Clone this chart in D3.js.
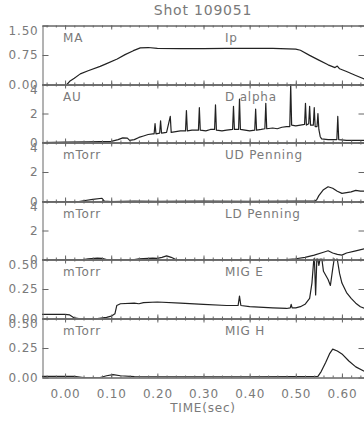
<!DOCTYPE html>
<html>
<head>
<meta charset="utf-8">
<script src="https://cdn.jsdelivr.net/npm/d3@7"></script>
<style>
  body { margin: 0; background: #fff; }
  text { font-family: "DejaVu Sans", sans-serif; fill: #7a7a7a; letter-spacing: 0.8px; }
</style>
</head>
<body>
<div class="canvas"></div>
<script>
// signals, [time (s), value]
const ip = [
  [0.004, 0], [0.01, 0.08], [0.02, 0.16], [0.033, 0.27], [0.05, 0.35], [0.076, 0.46],
  [0.09, 0.53], [0.113, 0.65], [0.13, 0.76], [0.148, 0.86], [0.163, 0.93], [0.18, 0.94],
  [0.20, 0.92], [0.25, 0.91], [0.30, 0.91], [0.35, 0.92], [0.40, 0.92], [0.45, 0.92],
  [0.50, 0.90], [0.51, 0.87], [0.53, 0.74], [0.55, 0.62], [0.57, 0.50], [0.585, 0.43],
  [0.59, 0.47], [0.595, 0.40], [0.61, 0.33], [0.63, 0.23], [0.65, 0.13]
];
const dAlpha = [
  [-0.05, 0], [0.00, 0.02], [0.05, 0.04], [0.10, 0.08], [0.115, 0.2], [0.125, 0.32], [0.135, 0.3],
  [0.14, 0.15], [0.15, 0.2], [0.16, 0.35], [0.17, 0.45], [0.18, 0.55], [0.19, 0.6],
  [0.193, 0.6], [0.195, 1.3], [0.197, 0.6], [0.205, 0.65], [0.207, 1.5], [0.209, 0.65],
  [0.22, 0.7], [0.228, 1.8], [0.23, 0.7], [0.24, 0.75], [0.25, 0.8], [0.261, 0.8], [0.263, 2.2],
  [0.265, 0.8], [0.275, 0.85], [0.289, 0.85], [0.291, 2.4], [0.293, 0.85], [0.305, 0.8],
  [0.315, 0.9], [0.324, 0.9], [0.326, 2.6], [0.328, 0.85], [0.34, 0.8], [0.35, 0.85],
  [0.363, 0.9], [0.365, 2.5], [0.367, 0.9], [0.376, 0.9], [0.378, 3.0], [0.38, 0.9],
  [0.39, 0.85], [0.40, 0.8], [0.411, 0.85], [0.413, 2.3], [0.415, 0.85], [0.425, 0.9],
  [0.433, 0.95], [0.435, 2.7], [0.437, 0.95], [0.45, 1.0], [0.46, 0.95], [0.47, 1.05],
  [0.48, 1.1], [0.487, 1.1], [0.489, 4.0], [0.491, 1.2], [0.50, 1.15], [0.51, 1.2],
  [0.519, 1.25], [0.521, 2.7], [0.523, 1.2], [0.528, 1.3], [0.530, 2.5], [0.532, 1.2],
  [0.538, 1.2], [0.54, 2.4], [0.542, 1.1], [0.546, 1.1], [0.548, 2.0], [0.55, 0.9],
  [0.553, 0.4], [0.556, 0.25], [0.57, 0.2], [0.589, 0.2], [0.591, 1.8], [0.593, 0.2],
  [0.61, 0.15], [0.65, 0.15]
];
const udPenning = [
  [-0.05, 0], [0.03, 0], [0.04, 0.05], [0.06, 0.15], [0.08, 0.22], [0.085, 0.02], [0.10, 0],
  [0.15, 0.02], [0.20, 0.01], [0.30, 0.02], [0.40, 0.01], [0.50, 0.02], [0.54, 0.02],
  [0.545, 0.1], [0.55, 0.4], [0.56, 0.8], [0.57, 1.0], [0.58, 0.9], [0.59, 0.7], [0.60, 0.55],
  [0.61, 0.6], [0.62, 0.65], [0.63, 0.75], [0.64, 0.7], [0.65, 0.7]
];
const ldPenning = [
  [-0.05, 0], [0.04, 0], [0.05, 0.05], [0.07, 0.1], [0.08, 0.08], [0.09, 0], [0.15, 0],
  [0.16, 0.05], [0.19, 0.1], [0.20, 0.08], [0.21, 0.15], [0.22, 0.25], [0.23, 0.15], [0.24, 0],
  [0.48, 0], [0.50, 0.05], [0.52, 0.15], [0.54, 0.3], [0.56, 0.5], [0.57, 0.6], [0.58, 0.45],
  [0.59, 0.35], [0.60, 0.3], [0.61, 0.45], [0.63, 0.6], [0.65, 0.75]
];
const migE = [
  [-0.05, 0.035], [0.00, 0.035], [0.01, 0.03], [0.02, 0.005], [0.03, 0], [0.07, 0], [0.09, 0.01],
  [0.10, 0.02], [0.108, 0.04], [0.112, 0.11], [0.12, 0.125], [0.15, 0.13], [0.16, 0.125],
  [0.17, 0.135], [0.20, 0.14], [0.25, 0.13], [0.30, 0.12], [0.35, 0.11], [0.375, 0.11],
  [0.378, 0.19], [0.381, 0.11], [0.40, 0.10], [0.45, 0.09], [0.48, 0.085], [0.488, 0.09],
  [0.49, 0.12], [0.492, 0.09], [0.50, 0.09], [0.51, 0.1], [0.52, 0.12], [0.53, 0.17],
  [0.535, 0.3], [0.54, 0.55], [0.543, 0.2], [0.546, 0.55], [0.55, 0.45], [0.555, 0.55],
  [0.56, 0.4], [0.57, 0.33], [0.575, 0.28], [0.58, 0.42], [0.585, 0.55], [0.59, 0.5],
  [0.595, 0.38], [0.60, 0.3], [0.61, 0.22], [0.62, 0.17], [0.63, 0.13], [0.64, 0.1], [0.65, 0.085]
];
const migH = [
  [-0.05, 0.01], [0.02, 0.01], [0.04, 0.0], [0.076, 0.0], [0.09, 0.015], [0.104, 0.025],
  [0.12, 0.015], [0.15, 0.008], [0.20, 0.005], [0.30, 0.005], [0.40, 0.005], [0.50, 0.008],
  [0.548, 0.01], [0.555, 0.05], [0.565, 0.13], [0.573, 0.2], [0.58, 0.24], [0.59, 0.225],
  [0.60, 0.2], [0.615, 0.14], [0.63, 0.09], [0.65, 0.05]
];

const series = [ip, dAlpha, udPenning, ldPenning, migE, migH];
const units = ['MA', 'AU', 'mTorr', 'mTorr', 'mTorr', 'mTorr'];
const names = ['Ip', 'D alpha', 'UD Penning', 'LD Penning', 'MIG E', 'MIG H'];
const yMax = [1.5, 4, 4, 4, 0.5, 0.5];
const yFormats = ['.2f', 'd', 'd', 'd', '.2f', '.2f'];
const xTicks = [0.0, 0.1, 0.2, 0.3, 0.4, 0.5, 0.6];
const title = 'Shot 109051';
const xTitle = 'TIME(sec)';

const W = 364, H = 421;
const plotL = 42, plotR = 365, plotT = 25, panelH = 58.6;

const svg = d3.select('.canvas')
  .append('svg')
  .attr('width', W)
  .attr('height', H);

const x = d3.scaleLinear().domain([-0.05, 0.65]).range([plotL, plotR]);
const minorTicks = d3.range(-0.04, 0.651, 0.02).map(v => +v.toFixed(2));

svg.append('text')
  .attr('x', 203).attr('y', 15)
  .attr('text-anchor', 'middle')
  .style('font-size', '14px')
  .text(title);

const line = d3.line();

series.forEach((data, i) => {
  const y0 = Math.round(plotT + i * panelH) + 0.5;
  const y1 = Math.round(plotT + (i + 1) * panelH) + 0.5;
  const y = d3.scaleLinear().domain([0, yMax[i]]).range([y1, y0]);
  const g = svg.append('g');

  g.append('clipPath').attr('id', 'clip' + i)
    .append('rect').attr('x', plotL).attr('y', y0 - 1).attr('width', plotR - plotL).attr('height', y1 - y0 + 1);

  // data
  g.append('path')
    .attr('clip-path', `url(#clip${i})`)
    .attr('d', line.x(d => x(d[0])).y(d => y(d[1]))(data))
    .attr('fill', 'none')
    .attr('stroke', '#222')
    .attr('stroke-width', 1.2)
    .attr('stroke-linejoin', 'round');

  // x ticks, top and bottom, pointing inward
  const fmtX = i === series.length - 1 ? d3.format('.2f') : () => '';
  g.append('g').attr('transform', `translate(0,${y1})`)
    .call(d3.axisBottom(x).tickValues(minorTicks).tickSizeInner(-2).tickSizeOuter(0).tickFormat(''));
  g.append('g').attr('transform', `translate(0,${y1})`)
    .call(d3.axisBottom(x).tickValues(xTicks).tickSizeInner(-4).tickSizeOuter(0).tickPadding(12).tickFormat(fmtX));
  g.append('g').attr('transform', `translate(0,${y0})`)
    .call(d3.axisTop(x).tickValues(minorTicks).tickSizeInner(-2).tickSizeOuter(0).tickFormat(''));
  g.append('g').attr('transform', `translate(0,${y0})`)
    .call(d3.axisTop(x).tickValues(xTicks).tickSizeInner(-4).tickSizeOuter(0).tickFormat(''));

  // y axes
  const yTicks = [0, yMax[i] / 2, yMax[i]];
  const ly = g.append('g').attr('transform', `translate(${plotL + 0.5},0)`)
    .call(d3.axisLeft(y).tickValues(yTicks).tickFormat(d3.format(yFormats[i]))
      .tickSizeInner(-6).tickSizeOuter(0).tickPadding(4));
  ly.selectAll('.tick text')
    .attr('dy', (d, k) => k === 2 ? '0.75em' : '0.32em');
  g.append('g').attr('transform', `translate(${plotR - 0.5},0)`)
    .call(d3.axisRight(y).tickValues(yTicks).tickSizeInner(-6).tickSizeOuter(0).tickFormat(''));

  g.append('text').attr('x', 63).attr('y', y0 + 16).style('font-size', '12px').text(units[i]);
  g.append('text').attr('x', 225).attr('y', y0 + 16).style('font-size', '12px').text(names[i]);
});

svg.selectAll('.domain, .tick line').attr('stroke', '#666');
svg.selectAll('.tick text')
  .style('font-size', '12px')
  .style('font-family', '"DejaVu Sans", sans-serif')
  .attr('fill', '#7a7a7a');

svg.append('text')
  .attr('x', 203).attr('y', 412)
  .attr('text-anchor', 'middle')
  .style('font-size', '12px')
  .text(xTitle);
</script>
</body>
</html>
